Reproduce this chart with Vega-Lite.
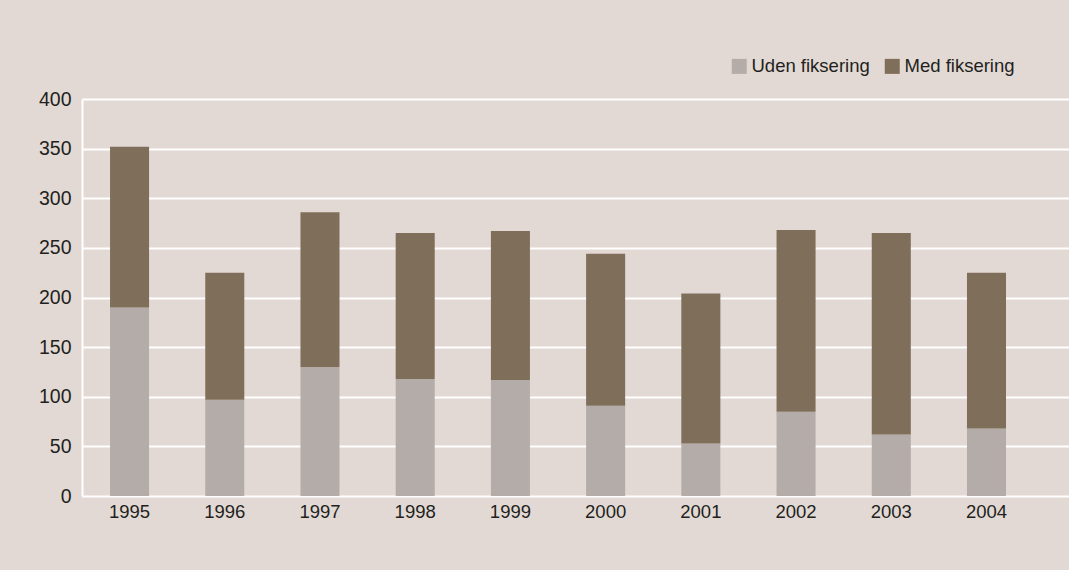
{
  "$schema": "https://vega.github.io/schema/vega-lite/v6.json",
  "width": 987,
  "height": 397,
  "autosize": {"type": "none"},
  "padding": {"left": 82, "top": 99, "right": 0, "bottom": 74},
  "background": "#e2d9d4",
  "config": {
    "view": {"stroke": null, "fill": "#e2d9d4"},
    "font": "Liberation Sans"
  },
  "data": {
    "values": [
      {"year": "1995", "type": "Uden fiksering", "value": 190},
      {"year": "1995", "type": "Med fiksering", "value": 162},
      {"year": "1996", "type": "Uden fiksering", "value": 97},
      {"year": "1996", "type": "Med fiksering", "value": 128},
      {"year": "1997", "type": "Uden fiksering", "value": 130},
      {"year": "1997", "type": "Med fiksering", "value": 156},
      {"year": "1998", "type": "Uden fiksering", "value": 118},
      {"year": "1998", "type": "Med fiksering", "value": 147},
      {"year": "1999", "type": "Uden fiksering", "value": 117},
      {"year": "1999", "type": "Med fiksering", "value": 150},
      {"year": "2000", "type": "Uden fiksering", "value": 91},
      {"year": "2000", "type": "Med fiksering", "value": 153},
      {"year": "2001", "type": "Uden fiksering", "value": 53},
      {"year": "2001", "type": "Med fiksering", "value": 151},
      {"year": "2002", "type": "Uden fiksering", "value": 85},
      {"year": "2002", "type": "Med fiksering", "value": 183},
      {"year": "2003", "type": "Uden fiksering", "value": 62},
      {"year": "2003", "type": "Med fiksering", "value": 203},
      {"year": "2004", "type": "Uden fiksering", "value": 68},
      {"year": "2004", "type": "Med fiksering", "value": 157}
    ]
  },
  "mark": {"type": "bar"},
  "encoding": {
    "x": {
      "field": "year",
      "type": "ordinal",
      "title": null,
      "scale": {"paddingInner": 0.59, "paddingOuter": 0.478, "align": 0.308},
      "axis": {
        "domain": false,
        "ticks": false,
        "grid": false,
        "labelAngle": 0,
        "labelPadding": 6,
        "labelFontSize": 18.5,
        "labelColor": "#231f20"
      }
    },
    "y": {
      "field": "value",
      "type": "quantitative",
      "aggregate": "sum",
      "stack": "zero",
      "title": null,
      "scale": {"domain": [0, 400], "nice": false},
      "axis": {
        "values": [0, 50, 100, 150, 200, 250, 300, 350, 400],
        "domain": true,
        "domainColor": "#ffffff",
        "domainWidth": 2,
        "ticks": false,
        "grid": true,
        "gridColor": "#ffffff",
        "gridWidth": 2,
        "gridOpacity": 1,
        "labelPadding": 11,
        "labelFontSize": 19.5,
        "labelColor": "#231f20"
      }
    },
    "color": {
      "field": "type",
      "type": "nominal",
      "title": null,
      "scale": {
        "domain": ["Uden fiksering", "Med fiksering"],
        "range": ["#b4aca8", "#7f6e5a"]
      },
      "legend": {
        "orient": "none",
        "direction": "horizontal",
        "legendX": 648,
        "legendY": -42,
        "padding": 0,
        "symbolType": "square",
        "symbolSize": 225,
        "symbolStrokeWidth": 0,
        "symbolOpacity": 1,
        "labelFontSize": 18.5,
        "labelColor": "#231f20",
        "labelOffset": 3,
        "columnPadding": 13
      }
    }
  }
}
